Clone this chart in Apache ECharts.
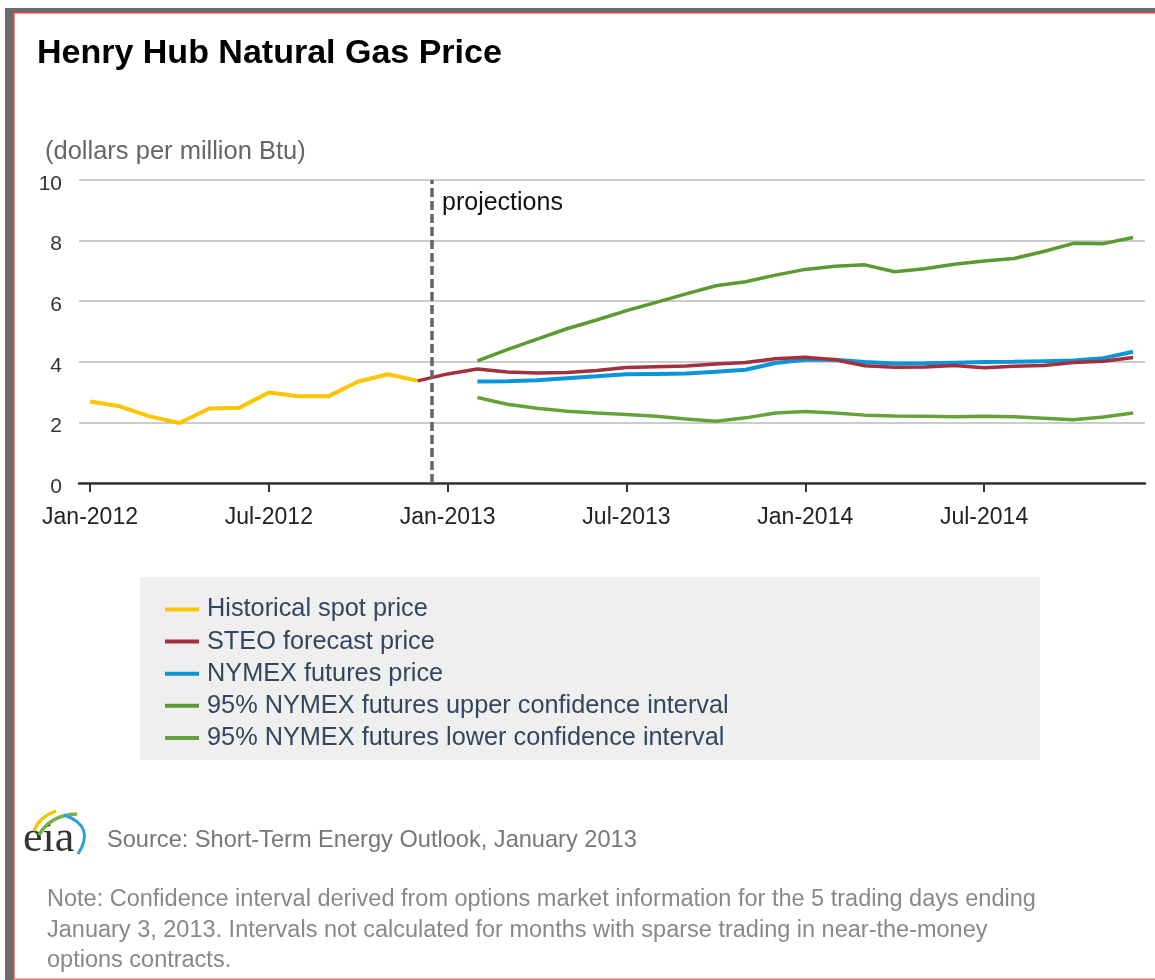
<!DOCTYPE html>
<html>
<head>
<meta charset="utf-8">
<script src="https://cdn.jsdelivr.net/npm/echarts@6/dist/echarts.min.js"></script>
<style>
html,body{margin:0;padding:0;background:#fff;}
#chart{width:1155px;height:980px;}
</style>
</head>
<body>
<div id="chart"></div>
<script>
// ---- data (month index 0 = Jan-2012) ----
const tickMonths = [0, 6, 12, 18, 24, 30];
const tickLabels = ['Jan-2012', 'Jul-2012', 'Jan-2013', 'Jul-2013', 'Jan-2014', 'Jul-2014'];

const historicalStart = 0;   // Jan-2012
const historical = [2.69, 2.53, 2.20, 1.98, 2.46, 2.48, 2.99, 2.86, 2.86, 3.35, 3.59, 3.37];

const steoStart = 11;        // Dec-2012
const steo = [3.37, 3.60, 3.76, 3.66, 3.63, 3.65, 3.71, 3.81, 3.84, 3.86, 3.93, 3.98, 4.10,
              4.15, 4.07, 3.87, 3.82, 3.83, 3.88, 3.80, 3.85, 3.88, 3.98, 4.02, 4.14];

const nymexStart = 13;       // Feb-2013
const nymex = [3.35, 3.36, 3.39, 3.46, 3.52, 3.59, 3.60, 3.61, 3.67, 3.74, 3.96,
               4.07, 4.07, 3.99, 3.94, 3.95, 3.97, 3.99, 4.00, 4.02, 4.04, 4.12, 4.33];
const upperCI = [4.03, 4.40, 4.75, 5.09, 5.38, 5.69, 5.96, 6.24, 6.51, 6.64, 6.86,
                 7.05, 7.15, 7.20, 6.97, 7.07, 7.22, 7.33, 7.41, 7.64, 7.91, 7.90, 8.10];
const lowerCI = [2.82, 2.60, 2.47, 2.37, 2.31, 2.26, 2.20, 2.11, 2.04, 2.15, 2.31,
                 2.36, 2.31, 2.24, 2.21, 2.20, 2.19, 2.20, 2.19, 2.14, 2.09, 2.18, 2.31];

const projectionStart = 11.47; // boundary between history and projections

const seriesNames = ['Historical spot price', 'STEO forecast price', 'NYMEX futures price',
  '95% NYMEX futures upper confidence interval', '95% NYMEX futures lower confidence interval'];

function pairs(start, arr) { return arr.map((v, i) => [start + i, v]); }

const FONT = '"Liberation Sans", Arial, sans-serif';
const chart = echarts.init(document.getElementById('chart'), null, {renderer: 'canvas'});

function lineSeries(name, color, data, width, extra) {
  return Object.assign({
    name: name, type: 'line', data: data, color: color,
    showSymbol: false, symbol: 'none', smooth: false,
    lineStyle: {color: color, width: width},
    itemStyle: {color: color},
    emphasis: {disabled: true}
  }, extra || {});
}

const option = {
  animation: false,
  backgroundColor: '#ffffff',
  textStyle: {fontFamily: FONT},
  grid: {left: 79, right: 10, top: 180, bottom: 497, containLabel: false},
  xAxis: {
    type: 'value', min: -0.37, max: 35.4,
    axisLine: {show: true, onZero: false, lineStyle: {color: '#333', width: 2.5}},
    axisTick: {show: true, customValues: tickMonths, length: 9, lineStyle: {color: '#333', width: 2}},
    axisLabel: {customValues: tickMonths, formatter: v => tickLabels[tickMonths.indexOf(v)] || '',
      fontSize: 23, color: '#222', margin: 23, fontFamily: FONT},
    splitLine: {show: false}
  },
  yAxis: {
    type: 'value', min: 0, max: 10, interval: 2,
    axisLine: {show: false}, axisTick: {show: false},
    axisLabel: {margin: 17, formatter: v => '{t|' + v + '}',
      rich: {t: {fontSize: 21, color: '#333', fontFamily: FONT, padding: [8, 0, 0, 0], lineHeight: 21}}},
    splitLine: {show: true, lineStyle: {color: '#cccccc', width: 2}}
  },
  legend: {
    orient: 'vertical', left: 160, top: 592,
    itemWidth: 34, itemHeight: 4, itemGap: 7.1, icon: 'rect',
    data: seriesNames,
    textStyle: {fontSize: 25.3, lineHeight: 24, color: '#34465f', fontFamily: FONT, padding: [0, 0, 0, 3]},
    selectedMode: false
  },
  series: [
    lineSeries(seriesNames[0], '#fdc400', pairs(historicalStart, historical), 4),
    lineSeries(seriesNames[2], '#0b95d9', pairs(nymexStart, nymex), 4),
    lineSeries(seriesNames[1], '#a3303f', pairs(steoStart, steo), 3.5, {
      markLine: {
        silent: true, symbol: ['none', 'none'],
        label: {show: false},
        lineStyle: {type: [9, 4], color: '#666', width: 3.5},
        data: [{xAxis: projectionStart}]
      }
    }),
    lineSeries(seriesNames[3], '#5a9a30', pairs(nymexStart, upperCI), 3.5),
    lineSeries(seriesNames[4], '#65a23a', pairs(nymexStart, lowerCI), 3.5)
  ],
  graphic: [
    // frame
    {type: 'rect', shape: {x: 5, y: 8, width: 1150, height: 4}, style: {fill: '#6b6b6b'}, silent: true},
    {type: 'rect', shape: {x: 5, y: 8, width: 8, height: 972}, style: {fill: '#6b6b6b'}, silent: true},
    {type: 'rect', shape: {x: 13, y: 12, width: 1142, height: 1.6}, style: {fill: '#ee3b3b'}, silent: true},
    {type: 'rect', shape: {x: 13, y: 12, width: 1.6, height: 968}, style: {fill: '#ee3b3b'}, silent: true},
    {type: 'rect', shape: {x: 13, y: 978.5, width: 1142, height: 1.5}, style: {fill: '#f07070'}, silent: true},
    // legend background
    {type: 'rect', z: -1, shape: {x: 140, y: 577, width: 900, height: 183}, style: {fill: '#efefef'}, silent: true},
    // texts
    {type: 'text', x: 37, y: 54, style: {text: 'Henry Hub Natural Gas Price', fontSize: 34, fontWeight: 'bold',
      fontFamily: FONT, fill: '#000', verticalAlign: 'middle'}},
    {type: 'text', x: 45, y: 152, style: {text: '(dollars per million Btu)', fontSize: 25.5,
      fontFamily: FONT, fill: '#666', verticalAlign: 'middle'}},
    {type: 'text', x: 442, y: 203, style: {text: 'projections', fontSize: 25,
      fontFamily: FONT, fill: '#111', verticalAlign: 'middle'}},
    {type: 'text', x: 107, y: 840, style: {text: 'Source: Short-Term Energy Outlook, January 2013', fontSize: 23.6,
      fontFamily: FONT, fill: '#777', verticalAlign: 'middle'}},
    {type: 'text', x: 47, y: 900, style: {text: 'Note: Confidence interval derived from options market information for the 5 trading days ending', fontSize: 23.5,
      fontFamily: FONT, fill: '#888', verticalAlign: 'middle'}},
    {type: 'text', x: 47, y: 931, style: {text: 'January 3, 2013. Intervals not calculated for months with sparse trading in near-the-money', fontSize: 23.5,
      fontFamily: FONT, fill: '#888', verticalAlign: 'middle'}},
    {type: 'text', x: 47, y: 961, style: {text: 'options contracts.', fontSize: 23.5,
      fontFamily: FONT, fill: '#888', verticalAlign: 'middle'}},
    // eia logo
    {type: 'text', x: 23, y: 839, style: {text: 'eia', fontSize: 44, fontFamily: '"Liberation Serif", "Times New Roman", serif',
      fill: '#333', verticalAlign: 'middle'}},
    {type: 'bezierCurve', shape: {x1: 34, y1: 831, cpx1: 39, cpy1: 817, x2: 56, y2: 811},
      style: {stroke: '#f3c300', lineWidth: 3, fill: null}},
    {type: 'bezierCurve', shape: {x1: 39, y1: 835, cpx1: 50, cpy1: 815, x2: 77, y2: 814},
      style: {stroke: '#73b243', lineWidth: 3.5, fill: null}},
    {type: 'bezierCurve', shape: {x1: 64, y1: 815, cpx1: 96, cpy1: 826, x2: 78, y2: 854},
      style: {stroke: '#2e9fd8', lineWidth: 3, fill: null}}
  ]
};
chart.setOption(option);
</script>
</body>
</html>
